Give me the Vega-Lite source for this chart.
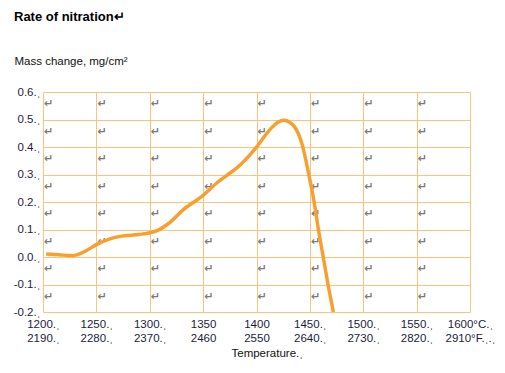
{
  "$schema": "https://vega.github.io/schema/vega-lite/v6.json",
  "width": 427,
  "height": 220,
  "autosize": "none",
  "padding": {"left": 43, "top": 92, "right": 35, "bottom": 61},
  "background": "white",
  "title": {
    "text": "Rate of nitration↵",
    "anchor": "start",
    "frame": "group",
    "dx": -29,
    "offset": 31,
    "font": "Liberation Sans",
    "fontSize": 13,
    "fontWeight": "bold",
    "color": "#000000"
  },
  "config": {
    "view": {"stroke": null},
    "axis": {
      "domain": false,
      "ticks": false,
      "gridColor": "#FDC27C",
      "gridWidth": 1,
      "gridOpacity": 1,
      "labelFont": "Liberation Sans",
      "labelFontSize": 11.5,
      "labelColor": "#1c1c3c",
      "titleFont": "Liberation Sans",
      "titleFontSize": 11.5,
      "titleFontWeight": "normal",
      "titleColor": "#111111"
    }
  },
  "datasets": {
    "curve": [
      {"t": 1203, "v": 0.011},
      {"t": 1215, "v": 0.008},
      {"t": 1228, "v": 0.005},
      {"t": 1240, "v": 0.022},
      {"t": 1250, "v": 0.045},
      {"t": 1262, "v": 0.065},
      {"t": 1272, "v": 0.075},
      {"t": 1290, "v": 0.082},
      {"t": 1300, "v": 0.088},
      {"t": 1308, "v": 0.098},
      {"t": 1317, "v": 0.12},
      {"t": 1332, "v": 0.174},
      {"t": 1350, "v": 0.224},
      {"t": 1363, "v": 0.27},
      {"t": 1372, "v": 0.296},
      {"t": 1381, "v": 0.322},
      {"t": 1390, "v": 0.355},
      {"t": 1400, "v": 0.4},
      {"t": 1413, "v": 0.465},
      {"t": 1420, "v": 0.49},
      {"t": 1426, "v": 0.497},
      {"t": 1431, "v": 0.49},
      {"t": 1435, "v": 0.477},
      {"t": 1443, "v": 0.406},
      {"t": 1449, "v": 0.3},
      {"t": 1454, "v": 0.2},
      {"t": 1458, "v": 0.1},
      {"t": 1462.5, "v": 0.0},
      {"t": 1467, "v": -0.1},
      {"t": 1472, "v": -0.2}
    ],
    "cells": [
      {"v": 0.6, "a": 1200, "b": 1250, "c": 1300, "d": 1350, "e": 1400, "f": 1450, "g": 1500, "h": 1550},
      {"v": 0.5, "a": 1200, "b": 1250, "c": 1300, "d": 1350, "e": 1400, "f": 1450, "g": 1500, "h": 1550},
      {"v": 0.4, "a": 1200, "b": 1250, "c": 1300, "d": 1350, "e": 1400, "f": 1450, "g": 1500, "h": 1550},
      {"v": 0.3, "a": 1200, "b": 1250, "c": 1300, "d": 1350, "e": 1400, "f": 1450, "g": 1500, "h": 1550},
      {"v": 0.2, "a": 1200, "b": 1250, "c": 1300, "d": 1350, "e": 1400, "f": 1450, "g": 1500, "h": 1550},
      {"v": 0.1, "a": 1200, "b": 1250, "c": 1300, "d": 1350, "e": 1400, "f": 1450, "g": 1500, "h": 1550},
      {"v": 0.0, "a": 1200, "b": 1250, "c": 1300, "d": 1350, "e": 1400, "f": 1450, "g": 1500, "h": 1550},
      {"v": -0.1, "a": 1200, "b": 1250, "c": 1300, "d": 1350, "e": 1400, "f": 1450, "g": 1500, "h": 1550}
    ]
  },
  "encoding": {
    "x": {
      "field": "t", "type": "quantitative",
      "scale": {"domain": [1200, 1600], "nice": false, "zero": false},
      "axis": {
        "values": [1200, 1250, 1300, 1350, 1400, 1450, 1500, 1550, 1600],
        "labelExpr": "datum.value==1200?['1200.ˌ','2190.ˌ']:datum.value==1250?['1250.ˌ','2280.ˌ']:datum.value==1300?['1300.ˌ','2370.ˌ']:datum.value==1350?['1350','2460']:datum.value==1400?['1400','2550']:datum.value==1450?['1450.ˌ','2640.ˌ']:datum.value==1500?['1500.ˌ','2730.ˌ']:datum.value==1550?['1550.ˌ','2820.ˌ']:['1600°C.ˌ','2910°F.ˌ.ˌ']",
        "labelBaseline": "top",
        "labelPadding": 6,
        "labelLineHeight": 14,
        "labelFlush": false,
        "labelOverlap": false,
        "title": "Temperature.ˌ",
        "titleAngle": 0,
        "titleAlign": "left",
        "titleBaseline": "middle",
        "titleX": 188,
        "titleY": 41
      }
    },
    "y": {
      "field": "v", "type": "quantitative",
      "scale": {"domain": [-0.2, 0.6], "nice": false, "zero": false},
      "axis": {
        "values": [-0.2, -0.1, 0, 0.1, 0.2, 0.3, 0.4, 0.5, 0.6],
        "labelExpr": "(datum.value<0?'-':'')+format(abs(datum.value),'.1f')+'.ˌ'",
        "labelPadding": 3,
        "labelOverlap": false,
        "title": "Mass change, mg/cm²",
        "titleAngle": 0,
        "titleAlign": "left",
        "titleBaseline": "middle",
        "titleX": -29,
        "titleY": -31
      }
    }
  },
  "layer": [
    {
      "data": {"name": "cells"},
      "transform": [{"fold": ["a", "b", "c", "d", "e", "f", "g", "h"], "as": ["k", "t"]}],
      "mark": {"type": "text", "text": "↵", "align": "left", "baseline": "middle", "dx": 1, "dy": 12, "font": "DejaVu Sans", "fontSize": 11, "fontWeight": "bold", "color": "#7a7a7a"}
    },
    {
      "data": {"name": "cells"},
      "mark": {"type": "text", "text": "◂", "align": "left", "baseline": "middle", "dx": 2, "dy": 12, "font": "DejaVu Sans", "fontSize": 6, "color": "#7a7a7a"},
      "encoding": {
        "x": {"datum": 1600, "type": "quantitative"}
      }
    },
    {
      "data": {"name": "curve"},
      "mark": {"type": "line", "color": "#F7A030", "strokeWidth": 3.5, "interpolate": "monotone", "clip": true}
    },
    {
      "data": {"values": [{}]},
      "mark": {"type": "rule", "color": "#000000", "strokeWidth": 1.5},
      "encoding": {
        "x": {"datum": 1200, "type": "quantitative"},
        "y": {"datum": -0.2, "type": "quantitative"},
        "y2": {"datum": 0.64}
      }
    },
    {
      "data": {"values": [{}]},
      "mark": {"type": "rule", "color": "#000000", "strokeWidth": 1.5},
      "encoding": {
        "x": {"datum": 1200, "type": "quantitative"},
        "x2": {"datum": 1612},
        "y": {"datum": -0.2, "type": "quantitative"}
      }
    },
    {
      "data": {"values": [{}]},
      "mark": {"type": "point", "shape": "triangle-up", "filled": true, "color": "#000000", "size": 45, "opacity": 1},
      "encoding": {
        "x": {"datum": 1200, "type": "quantitative"},
        "y": {"datum": 0.645, "type": "quantitative"}
      }
    },
    {
      "data": {"values": [{}]},
      "mark": {"type": "point", "shape": "triangle-right", "filled": true, "color": "#000000", "size": 45, "opacity": 1},
      "encoding": {
        "x": {"datum": 1614, "type": "quantitative"},
        "y": {"datum": -0.2, "type": "quantitative"}
      }
    }
  ]
}
